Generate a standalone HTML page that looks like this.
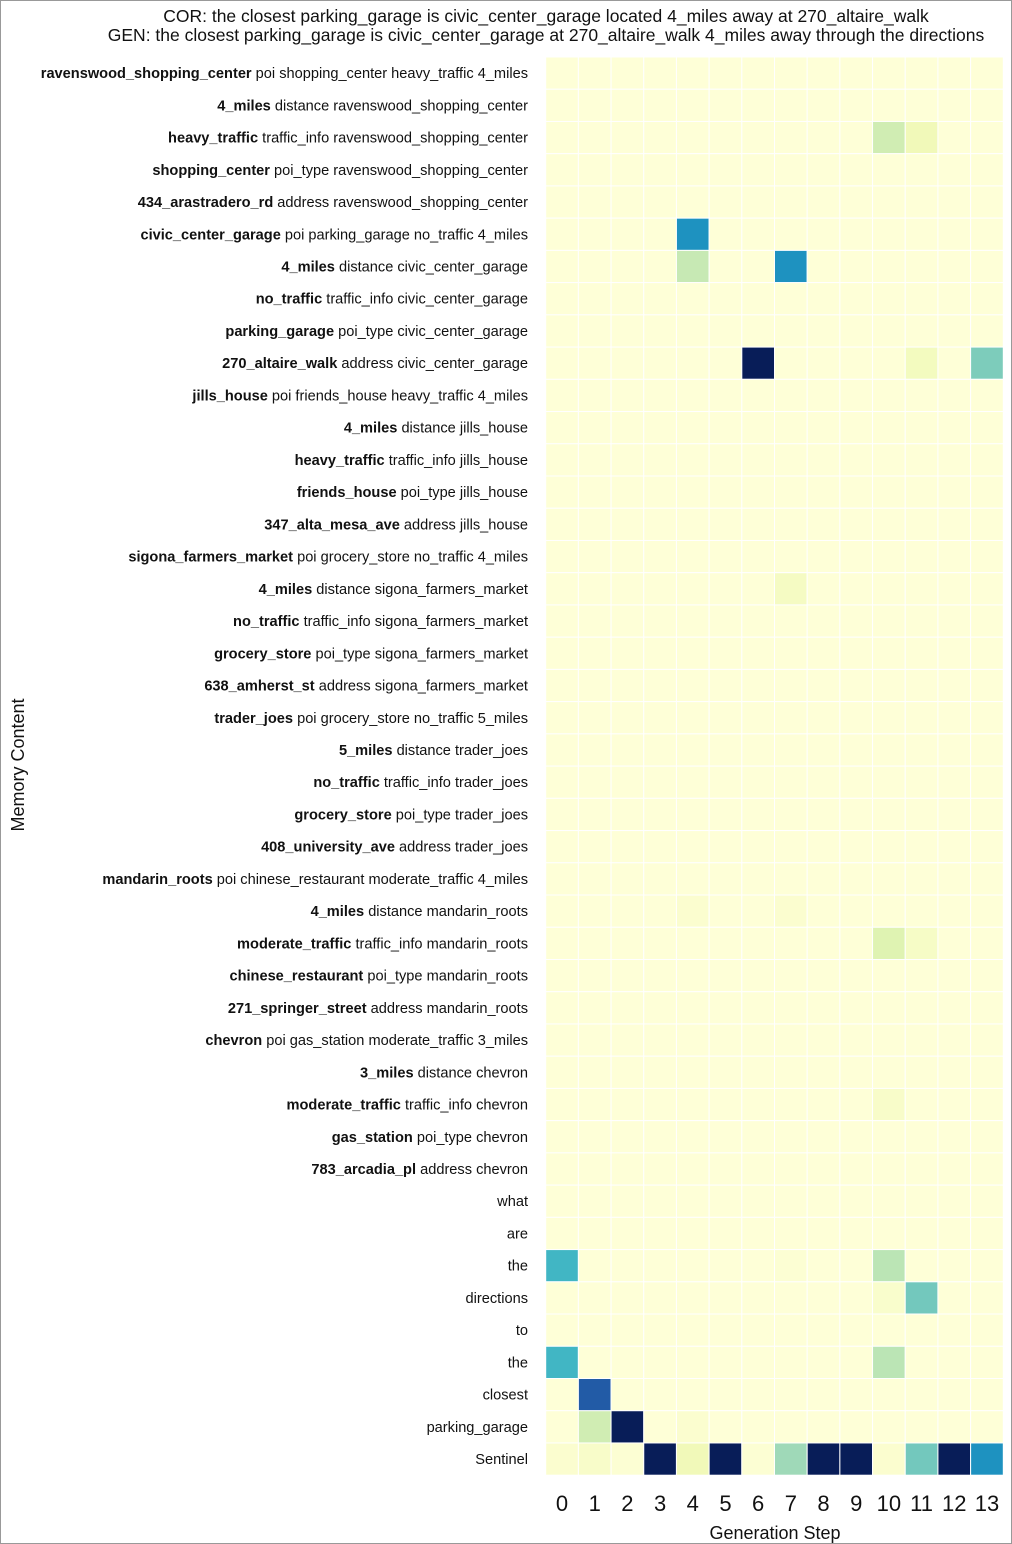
<!DOCTYPE html>
<html><head><meta charset="utf-8"><style>
html,body{margin:0;padding:0;background:#fff;}
svg{display:block;font-family:"Liberation Sans","DejaVu Sans",sans-serif;}
</style></head><body>
<svg id="chart" width="1012" height="1544" viewBox="0 0 1012 1544">
<rect x="0.5" y="0.5" width="1011" height="1543" fill="#fff" stroke="#999"/>
<text x="546" y="22" text-anchor="middle" font-size="17.5" fill="#111">COR: the closest parking_garage is civic_center_garage located 4_miles away at 270_altaire_walk</text>
<text x="546" y="41" text-anchor="middle" font-size="17.5" fill="#111">GEN: the closest parking_garage is civic_center_garage at 270_altaire_walk 4_miles away through the directions</text>
<g id="cells"></g>
<g id="ylabels"></g>
<g id="xlabels"></g>
<text x="775" y="1539" text-anchor="middle" font-size="18" fill="#111">Generation Step</text>
<text transform="translate(24,765) rotate(-90)" text-anchor="middle" font-size="18" fill="#111">Memory Content</text>
</svg>
<script>
const rowBold = ["ravenswood_shopping_center","4_miles","heavy_traffic","shopping_center","434_arastradero_rd","civic_center_garage","4_miles","no_traffic","parking_garage","270_altaire_walk","jills_house","4_miles","heavy_traffic","friends_house","347_alta_mesa_ave","sigona_farmers_market","4_miles","no_traffic","grocery_store","638_amherst_st","trader_joes","5_miles","no_traffic","grocery_store","408_university_ave","mandarin_roots","4_miles","moderate_traffic","chinese_restaurant","271_springer_street","chevron","3_miles","moderate_traffic","gas_station","783_arcadia_pl","","","","","","","","",""];
const rowRest = ["poi shopping_center heavy_traffic 4_miles","distance ravenswood_shopping_center","traffic_info ravenswood_shopping_center","poi_type ravenswood_shopping_center","address ravenswood_shopping_center","poi parking_garage no_traffic 4_miles","distance civic_center_garage","traffic_info civic_center_garage","poi_type civic_center_garage","address civic_center_garage","poi friends_house heavy_traffic 4_miles","distance jills_house","traffic_info jills_house","poi_type jills_house","address jills_house","poi grocery_store no_traffic 4_miles","distance sigona_farmers_market","traffic_info sigona_farmers_market","poi_type sigona_farmers_market","address sigona_farmers_market","poi grocery_store no_traffic 5_miles","distance trader_joes","traffic_info trader_joes","poi_type trader_joes","address trader_joes","poi chinese_restaurant moderate_traffic 4_miles","distance mandarin_roots","traffic_info mandarin_roots","poi_type mandarin_roots","address mandarin_roots","poi gas_station moderate_traffic 3_miles","distance chevron","traffic_info chevron","poi_type chevron","address chevron","what","are","the","directions","to","the","closest","parking_garage","Sentinel"];
const steps = [0,1,2,3,4,5,6,7,8,9,10,11,12,13];
// nonzero weights: [row, step, value]
const weights = [
[2,10,0.22],[2,11,0.1],
[5,4,0.62],
[6,4,0.25],[6,7,0.62],
[9,6,1.0],[9,11,0.08],[9,13,0.38],
[16,7,0.07],
[26,4,0.03],[26,7,0.03],
[27,10,0.17],[27,11,0.06],
[32,10,0.05],
[37,0,0.5],[37,7,0.02],[37,10,0.27],
[38,10,0.04],[38,11,0.4],
[40,0,0.5],[40,10,0.27],
[41,1,0.76],
[42,1,0.22],[42,2,1.0],[42,4,0.03],
[43,0,0.03],[43,1,0.05],[43,2,0.02],[43,3,1.0],[43,4,0.1],[43,5,1.0],[43,6,0.02],[43,7,0.32],[43,8,1.0],[43,9,1.0],[43,10,0.03],[43,11,0.4],[43,12,1.0],[43,13,0.62]
];
const NS="http://www.w3.org/2000/svg";
const x0=545.7,x1=1003.3,y0=57,y1=1475.2;
const nR=rowRest.length,nC=steps.length;
const cw=(x1-x0)/nC,ch=(y1-y0)/nR;
const xPos=c=>x0+c*cw, yPos=r=>y0+r*ch;
const stops=["#ffffd9","#edf8b1","#c7e9b4","#7fcdbb","#41b6c4","#1d91c0","#225ea8","#253494","#081d58"];
function hx(h){return [1,3,5].map(i=>parseInt(h.substr(i,2),16));}
function color(v){v=Math.max(0,Math.min(1,v));const p=v*8,i=Math.min(7,Math.floor(p)),t=p-i;const a=hx(stops[i]),b=hx(stops[i+1]);return "rgb("+a.map((x,k)=>Math.round(x+(b[k]-x)*t)).join(",")+")";}
const M=[];for(let r=0;r<nR;r++){M.push(new Array(nC).fill(0.005));}
weights.forEach(w=>{M[w[0]][w[1]]=w[2];});
const cells=document.getElementById("cells");
for(let r=0;r<nR;r++)for(let c=0;c<nC;c++){
 const el=document.createElementNS(NS,"rect");
 el.setAttribute("x",xPos(c));el.setAttribute("y",yPos(r));
 el.setAttribute("width",cw);el.setAttribute("height",ch);
 el.setAttribute("fill",color(M[r][c]));el.setAttribute("stroke","#fff");el.setAttribute("stroke-width","1");
 
 
 cells.appendChild(el);
}
const yl=document.getElementById("ylabels");
for(let r=0;r<nR;r++){
 const t=document.createElementNS(NS,"text");
 t.setAttribute("x",528);t.setAttribute("y",yPos(r)+ch/2+5);
 t.setAttribute("text-anchor","end");t.setAttribute("font-size","14.6");t.setAttribute("fill","#111");
 
 
 if(rowBold[r]){const b=document.createElementNS(NS,"tspan");b.setAttribute("font-weight","bold");b.textContent=rowBold[r]+" ";t.appendChild(b);}
 const s=document.createElementNS(NS,"tspan");s.textContent=rowRest[r];t.appendChild(s);
 yl.appendChild(t);
}
const xl=document.getElementById("xlabels");
steps.forEach((s,c)=>{
 const t=document.createElementNS(NS,"text");
 t.setAttribute("x",xPos(c)+cw/2);t.setAttribute("y",1511);
 t.setAttribute("text-anchor","middle");t.setAttribute("font-size","22");t.setAttribute("fill","#111");
 
 
 t.textContent=s;xl.appendChild(t);
});
</script>
</body></html>
